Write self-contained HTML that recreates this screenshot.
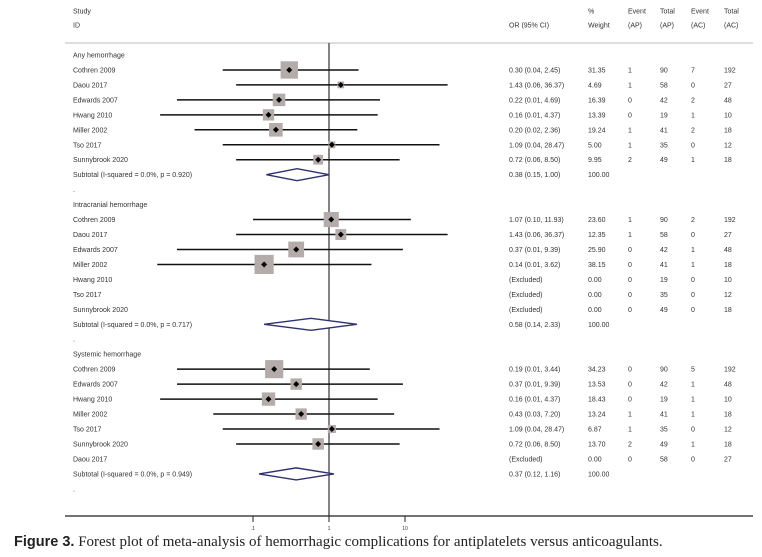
<!DOCTYPE html>
<html><head><meta charset="utf-8"><style>
html,body{margin:0;padding:0;background:#fff;}
svg text{font-family:"Liberation Sans",sans-serif;font-size:7px;fill:#333;}
#cap{position:absolute;left:14px;top:534px;font-family:"Liberation Serif",serif;font-size:15px;color:#222;white-space:nowrap;}
#cap b{font-family:"Liberation Sans",sans-serif;font-size:14.5px;}
</style></head><body>
<div style="position:relative;width:762px;height:557px;overflow:hidden">
<svg id="plot" width="762" height="557"></svg>
<div id="cap"><b>Figure 3.</b> Forest plot of meta-analysis of hemorrhagic complications for antiplatelets versus anticoagulants.</div>
</div>
<script>
// Row labels per group
const groups = ["Any hemorrhage","Intracranial hemorrhage","Systemic hemorrhage"];
const studies = [
 ["Cothren 2009","Daou 2017","Edwards 2007","Hwang 2010","Miller 2002","Tso 2017","Sunnybrook 2020"],
 ["Cothren 2009","Daou 2017","Edwards 2007","Miller 2002","Hwang 2010","Tso 2017","Sunnybrook 2020"],
 ["Cothren 2009","Edwards 2007","Hwang 2010","Miller 2002","Tso 2017","Sunnybrook 2020","Daou 2017"]
];
// null = excluded
const orVals = [
 [0.30,1.43,0.22,0.16,0.20,1.09,0.72],
 [1.07,1.43,0.37,0.14,null,null,null],
 [0.19,0.37,0.16,0.43,1.09,0.72,null]
];
const loVals = [
 [0.04,0.06,0.01,0.006,0.017,0.04,0.06],
 [0.10,0.06,0.01,0.0055,null,null,null],
 [0.01,0.01,0.006,0.03,0.04,0.06,null]
];
const hiVals = [
 [2.45,36.37,4.69,4.37,2.36,28.47,8.50],
 [11.93,36.37,9.39,3.62,null,null,null],
 [3.44,9.39,4.37,7.20,28.47,8.50,null]
];
const weights = [
 [31.35,4.69,16.39,13.39,19.24,5.00,9.95],
 [23.60,12.35,25.90,38.15,0,0,0],
 [34.23,13.53,18.43,13.24,6.87,13.70,0]
];
const ciText = [
 ["0.30 (0.04, 2.45)","1.43 (0.06, 36.37)","0.22 (0.01, 4.69)","0.16 (0.01, 4.37)","0.20 (0.02, 2.36)","1.09 (0.04, 28.47)","0.72 (0.06, 8.50)"],
 ["1.07 (0.10, 11.93)","1.43 (0.06, 36.37)","0.37 (0.01, 9.39)","0.14 (0.01, 3.62)","(Excluded)","(Excluded)","(Excluded)"],
 ["0.19 (0.01, 3.44)","0.37 (0.01, 9.39)","0.16 (0.01, 4.37)","0.43 (0.03, 7.20)","1.09 (0.04, 28.47)","0.72 (0.06, 8.50)","(Excluded)"]
];
const weightText = [
 ["31.35","4.69","16.39","13.39","19.24","5.00","9.95"],
 ["23.60","12.35","25.90","38.15","0.00","0.00","0.00"],
 ["34.23","13.53","18.43","13.24","6.87","13.70","0.00"]
];
const eventAP = [[1,1,0,0,1,1,2],[1,1,0,0,0,0,0],[0,0,0,1,1,2,0]];
const totalAP = [[90,58,42,19,41,35,49],[90,58,42,41,19,35,49],[90,42,19,41,35,49,58]];
const eventAC = [[7,0,2,1,2,0,1],[2,0,1,1,0,0,0],[5,1,1,1,0,1,0]];
const totalAC = [[192,27,48,10,18,12,18],[192,27,48,18,10,12,18],[192,48,10,18,12,18,27]];
const subOR = [0.38,0.58,0.37];
const subLo = [0.15,0.14,0.12];
const subHi = [1.00,2.33,1.16];
const subText = ["0.38 (0.15, 1.00)","0.58 (0.14, 2.33)","0.37 (0.12, 1.16)"];
const subLabel = ["Subtotal  (I-squared = 0.0%, p = 0.920)","Subtotal  (I-squared = 0.0%, p = 0.717)","Subtotal  (I-squared = 0.0%, p = 0.949)"];
const tickVals = [0.1,1,10];
const tickLabels = [".1","1","10"];

const NS="http://www.w3.org/2000/svg";
const svg=document.getElementById('plot');
const X0=329, PPD=76, XMIN=150, XMAX=448;
function xs(v){return X0+Math.log10(v)*PPD;}
function cx(v){return Math.max(XMIN,Math.min(XMAX,xs(v)));}
function ys(i){return 55+i*14.96;}
function mk(tag,attrs){const e=document.createElementNS(NS,tag);for(const k in attrs)e.setAttribute(k,attrs[k]);svg.appendChild(e);return e;}
function txt(x,y,s){const t=mk('text',{x:x,y:y+2.5});t.textContent=s;return t;}

// header
let t;
t=txt(73,11,"Study");
t=txt(73,25,"ID");
t=txt(509,25,"OR (95% CI)");
t=txt(588,11,"%");
txt(588,25,"Weight");
const hcols=[[628,"Event","(AP)"],[660,"Total","(AP)"],[691,"Event","(AC)"],[724,"Total","(AC)"]];
hcols.forEach(h=>{const a=txt(h[0],11,h[1]);txt(h[0],25,h[2]);});
let l=mk('line',{x1:65,y1:43,x2:753,y2:43,stroke:'#bbb','stroke-width':1});


// null line
l=mk('line',{x1:X0,y1:43,x2:X0,y2:516,stroke:'#333','stroke-width':1.2});


groups.forEach((g,gi)=>{
  const base=gi*10;
  const gt=txt(73,ys(base),g);
  
  
  studies[gi].forEach((s,si)=>{
    const y=ys(base+1+si);
    const lt=txt(73,y,s);
    
    
    if(orVals[gi][si]!==null){
      const ci=mk('line',{x1:cx(loVals[gi][si]),y1:y,x2:cx(hiVals[gi][si]),y2:y,stroke:'#111','stroke-width':1.5});
      
      
      const sz=Math.sqrt(weights[gi][si])*3.1;
      const bx=mk('rect',{x:xs(orVals[gi][si])-sz/2,y:y-sz/2,width:sz,height:sz,fill:'#b3acaa'});
      
      
      const px=xs(orVals[gi][si]);
      const pt=mk('polygon',{points:`${px-3},${y} ${px},${y-3} ${px+3},${y} ${px},${y+3}`,fill:'#000'});
      
      
    }
    const c1=txt(509,y,ciText[gi][si]);
    
    
    txt(588,y,weightText[gi][si]);
    txt(628,y,String(eventAP[gi][si]));
    txt(660,y,String(totalAP[gi][si]));
    txt(691,y,String(eventAC[gi][si]));
    txt(724,y,String(totalAC[gi][si]));
  });
  const sy=ys(base+8);
  const st=txt(73,sy,subLabel[gi]);
  
  
  const a=xs(subLo[gi]),m=xs(subOR[gi]),b=xs(subHi[gi]);
  const d=mk('polygon',{points:`${a},${sy} ${m},${sy-6} ${b},${sy} ${m},${sy+6}`,fill:'#fff',stroke:'#2e3270','stroke-width':1.4});
  
  
  txt(509,sy,subText[gi]);
  txt(588,sy,"100.00");
  txt(73,ys(base+9),".");
});

// axis
l=mk('line',{x1:65,y1:516,x2:753,y2:516,stroke:'#222','stroke-width':1.2});

tickVals.forEach((v,i)=>{
  const x=xs(v);
  const tk=mk('line',{x1:x,y1:516,x2:x,y2:522,stroke:'#222','stroke-width':1});
  
  
  const tl=mk('text',{x:x,y:530,'text-anchor':'middle',style:'font-size:5px'});
  tl.textContent=tickLabels[i];
  
  
});
</script>
</body></html>
